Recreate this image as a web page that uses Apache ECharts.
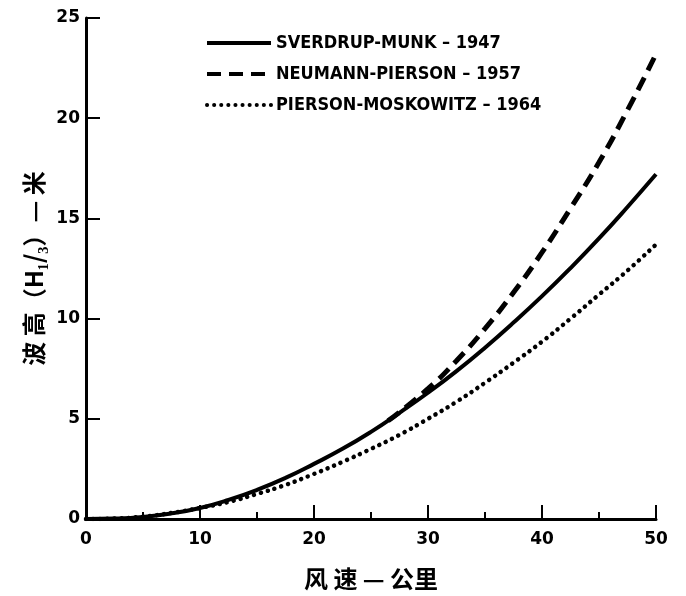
<!DOCTYPE html>
<html>
<head>
<meta charset="utf-8">
<script src="https://cdn.jsdelivr.net/npm/echarts@6/dist/echarts.min.js"></script>
<style>html,body{margin:0;padding:0;background:#fff;}#c{width:686px;height:596px;}</style>
</head>
<body>
<div id="c"></div>
<script>
// Wind speed (x) values
var windSpeed = [0, 2.5, 5, 7.5, 10, 12.5, 15, 17.5, 20, 22.5, 25, 27.5, 30, 32.5, 35, 37.5, 40, 42.5, 45, 47.5, 50];
// Sverdrup-Munk 1947 wave height
var sverdrupMunk = [0, 0.02, 0.1, 0.28, 0.55, 0.95, 1.45, 2.05, 2.75, 3.5, 4.35, 5.3, 6.3, 7.38, 8.55, 9.8, 11.12, 12.52, 14.0, 15.57, 17.2];
// Pierson-Moskowitz 1964 wave height
var piersonMoskowitz = [0, 0.02, 0.12, 0.3, 0.55, 0.85, 1.25, 1.7, 2.25, 2.85, 3.5, 4.2, 5.0, 5.85, 6.8, 7.8, 8.85, 10.0, 11.2, 12.4, 13.7];
// Neumann-Pierson 1957 (drawn from where it separates)
var npSpeed = [26.5, 30, 32.5, 35, 37.5, 40, 42.5, 45, 47.5, 50];
var neumannPierson = [4.9, 6.5, 7.9, 9.5, 11.3, 13.3, 15.5, 17.8, 20.4, 23.2];
var seriesNames = ['SVERDRUP-MUNK – 1947', 'NEUMANN-PIERSON – 1957', 'PIERSON-MOSKOWITZ – 1964'];

function pairs(xs, ys) { return xs.map(function (x, i) { return [x, ys[i]]; }); }

var chart = echarts.init(document.getElementById('c'));
var font = 'DejaVu Sans';
chart.setOption({
  animation: false,
  backgroundColor: '#fff',
  grid: { left: 86, right: 30, top: 18, bottom: 71, containLabel: false },
  legend: {
    orient: 'vertical', left: 200, top: 29, itemWidth: 64, itemHeight: 14, itemGap: 13,
    itemStyle: { opacity: 0 },
    lineStyle: { width: 4 },
    textStyle: { fontFamily: 'DejaVu Sans Condensed', fontWeight: 'bold', fontSize: 18, color: '#000' },
    data: seriesNames
  },
  xAxis: {
    type: 'value', min: 0, max: 50, interval: 10,
    name: '风 速 — 公里', nameLocation: 'middle', nameGap: 48,
    nameTextStyle: { fontFamily: 'Noto Sans CJK SC', fontWeight: 'bold', fontSize: 24, color: '#000' },
    axisLine: { show: true, lineStyle: { color: '#000', width: 3 } },
    axisTick: { show: true, inside: true, length: 14, lineStyle: { color: '#000', width: 2 } },
    minorTick: { show: true, splitNumber: 2, length: 7, lineStyle: { color: '#000', width: 2 } },
    axisLabel: { fontFamily: font, fontWeight: 'bold', fontSize: 17, color: '#000', margin: 12 },
    splitLine: { show: false }
  },
  yAxis: {
    type: 'value', min: 0, max: 25, interval: 5,
    name: '波 高（H₁/₃）— 米', nameLocation: 'middle', nameGap: 40, nameRotate: 90,
    nameTextStyle: { fontFamily: 'Noto Sans CJK SC', fontWeight: 'bold', fontSize: 24, color: '#000' },
    axisLine: { show: true, lineStyle: { color: '#000', width: 3 } },
    axisTick: { show: true, inside: true, length: 14, lineStyle: { color: '#000', width: 2 } },
    axisLabel: { fontFamily: font, fontWeight: 'bold', fontSize: 17, color: '#000', margin: 6 },
    splitLine: { show: false }
  },
  series: [
    { name: seriesNames[0], type: 'line', smooth: true, symbol: 'none', data: pairs(windSpeed, sverdrupMunk),
      lineStyle: { color: '#000', width: 4 }, itemStyle: { color: '#000' } },
    { name: seriesNames[1], type: 'line', smooth: true, symbol: 'none', data: pairs(npSpeed, neumannPierson),
      lineStyle: { color: '#000', width: 5, type: [14, 8] }, itemStyle: { color: '#000' } },
    { name: seriesNames[2], type: 'line', smooth: true, symbol: 'none', data: pairs(windSpeed, piersonMoskowitz),
      lineStyle: { color: '#000', width: 4.5, type: [0.1, 7], cap: 'round' }, itemStyle: { color: '#000' } }
  ]
});
</script>
</body>
</html>
